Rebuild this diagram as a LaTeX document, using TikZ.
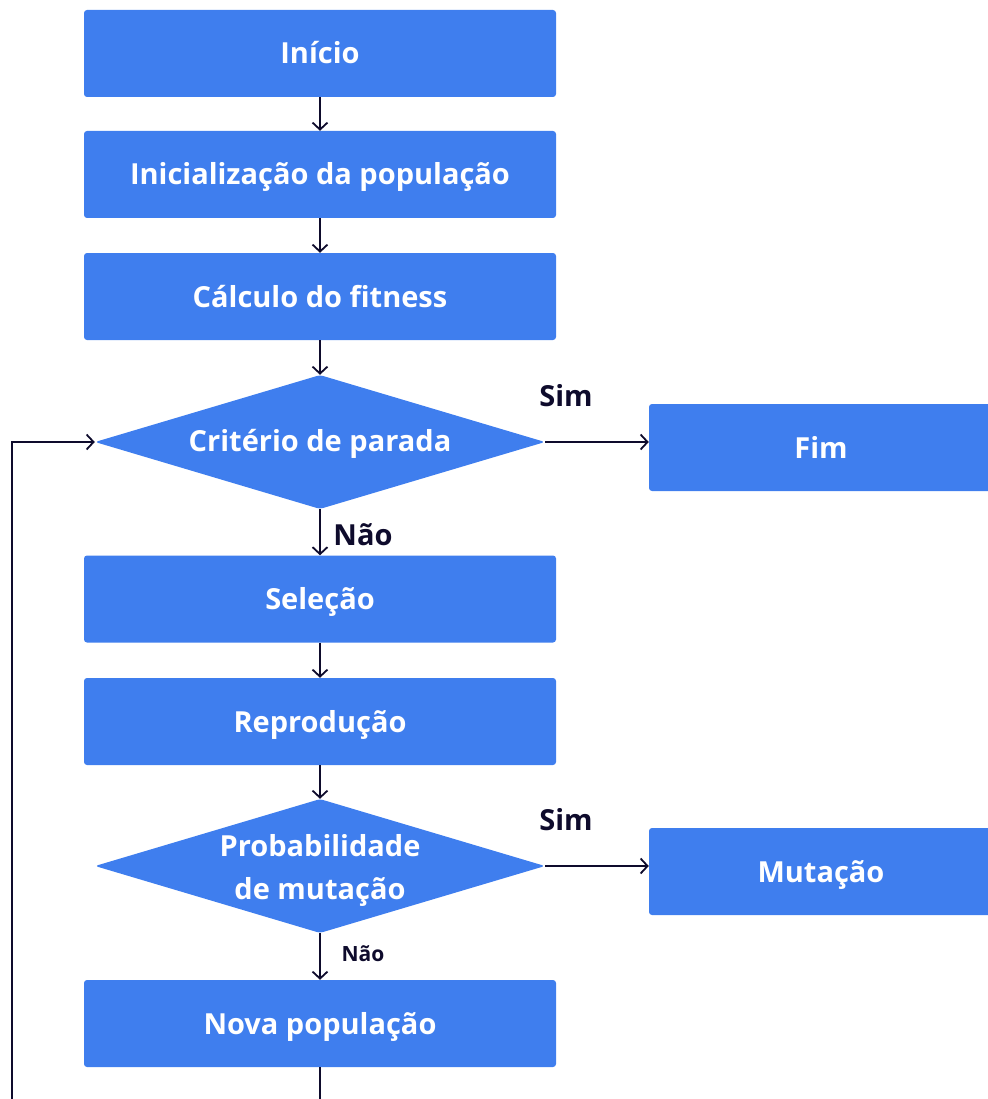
\documentclass[tikz,border=0pt]{standalone}
\usepackage{fontspec}
\setmainfont{Open Sans}
\usetikzlibrary{arrows.meta,shapes.geometric}
\definecolor{boxblue}{HTML}{3F7EEE}
\definecolor{ink}{HTML}{0E0B2C}
\begin{document}
\begin{tikzpicture}[x=1pt,y=-1pt,
  box/.style={fill=boxblue,draw=none,rounded corners=3pt,minimum width=472pt,minimum height=87pt,inner sep=0pt,text=white,font=\fontsize{29}{35}\selectfont\bfseries,align=center,text height=26pt,text depth=5pt},
  sidebox/.style={box,minimum width=344pt},
  decision/.style={diamond,fill=boxblue,draw=none,rounded corners=3pt,minimum width=450pt,minimum height=134pt,aspect=3.36,inner sep=0pt},
  dtext/.style={text=white,font=\fontsize{29}{43}\selectfont\bfseries,align=center,inner sep=0pt},
  conn/.style={draw=ink,line width=1.8pt,-{Straight Barb[length=7pt,width=15pt,line width=1.8pt]}},
  plain/.style={draw=ink,line width=1.8pt},
  lbl/.style={text=ink,font=\fontsize{29}{35}\selectfont\bfseries,inner sep=0pt},
  lblsmall/.style={text=ink,font=\fontsize{21}{25}\selectfont\bfseries,inner sep=0pt}]
\useasboundingbox (0,0) rectangle (987,1099);
\node[box] (inicio) at (320,53.5) {Início};
\node[box] (init) at (320,174.5) {Inicialização da população};
\node[box] (fit) at (320,296.5) {Cálculo do fitness};
\node[decision] (crit) at (320,442) {};
\node[dtext,text height=25pt,text depth=6pt] (crittxt) at (320,442) {Critério de parada};
\node[sidebox] (fim) at (821,447.5) {Fim};
\node[box] (sel) at (320,599) {Seleção};
\node[box] (rep) at (320,721.5) {Reprodução};
\node[decision] (prob) at (320,866) {};
\node[dtext] (probtxt) at (320,870) {Probabilidade\\de mutação};
\node[sidebox] (mut) at (821,871.5) {Mutação};
\node[box] (nova) at (320,1023.5) {Nova população};
\coordinate (loopL) at (12,1099);
\coordinate (loopB) at (320,1099);

\draw[conn] (inicio.south) -- (init.north);
\draw[conn] (init.south) -- (fit.north);
\draw[conn] (fit.south) -- (crit.north);
\draw[conn] (crit.east) -- (crit.east -| fim.west);
\draw[conn] (crit.south) -- (sel.north);
\draw[conn] (sel.south) -- (rep.north);
\draw[conn] (rep.south) -- (prob.north);
\draw[conn] (prob.east) -- (prob.east -| mut.west);
\draw[conn] (prob.south) -- (nova.north);
\draw[plain] (nova.south) -- (loopB);
\draw[conn] (loopL) |- (crit.west);

\node[lbl] (sim1) at (566,396) {Sim};
\node[lbl] (nao1) at (363,535) {Não};
\node[lbl] (sim2) at (566,820) {Sim};
\node[lblsmall] (nao2) at (363,954) {Não};
\end{tikzpicture}
\end{document}
